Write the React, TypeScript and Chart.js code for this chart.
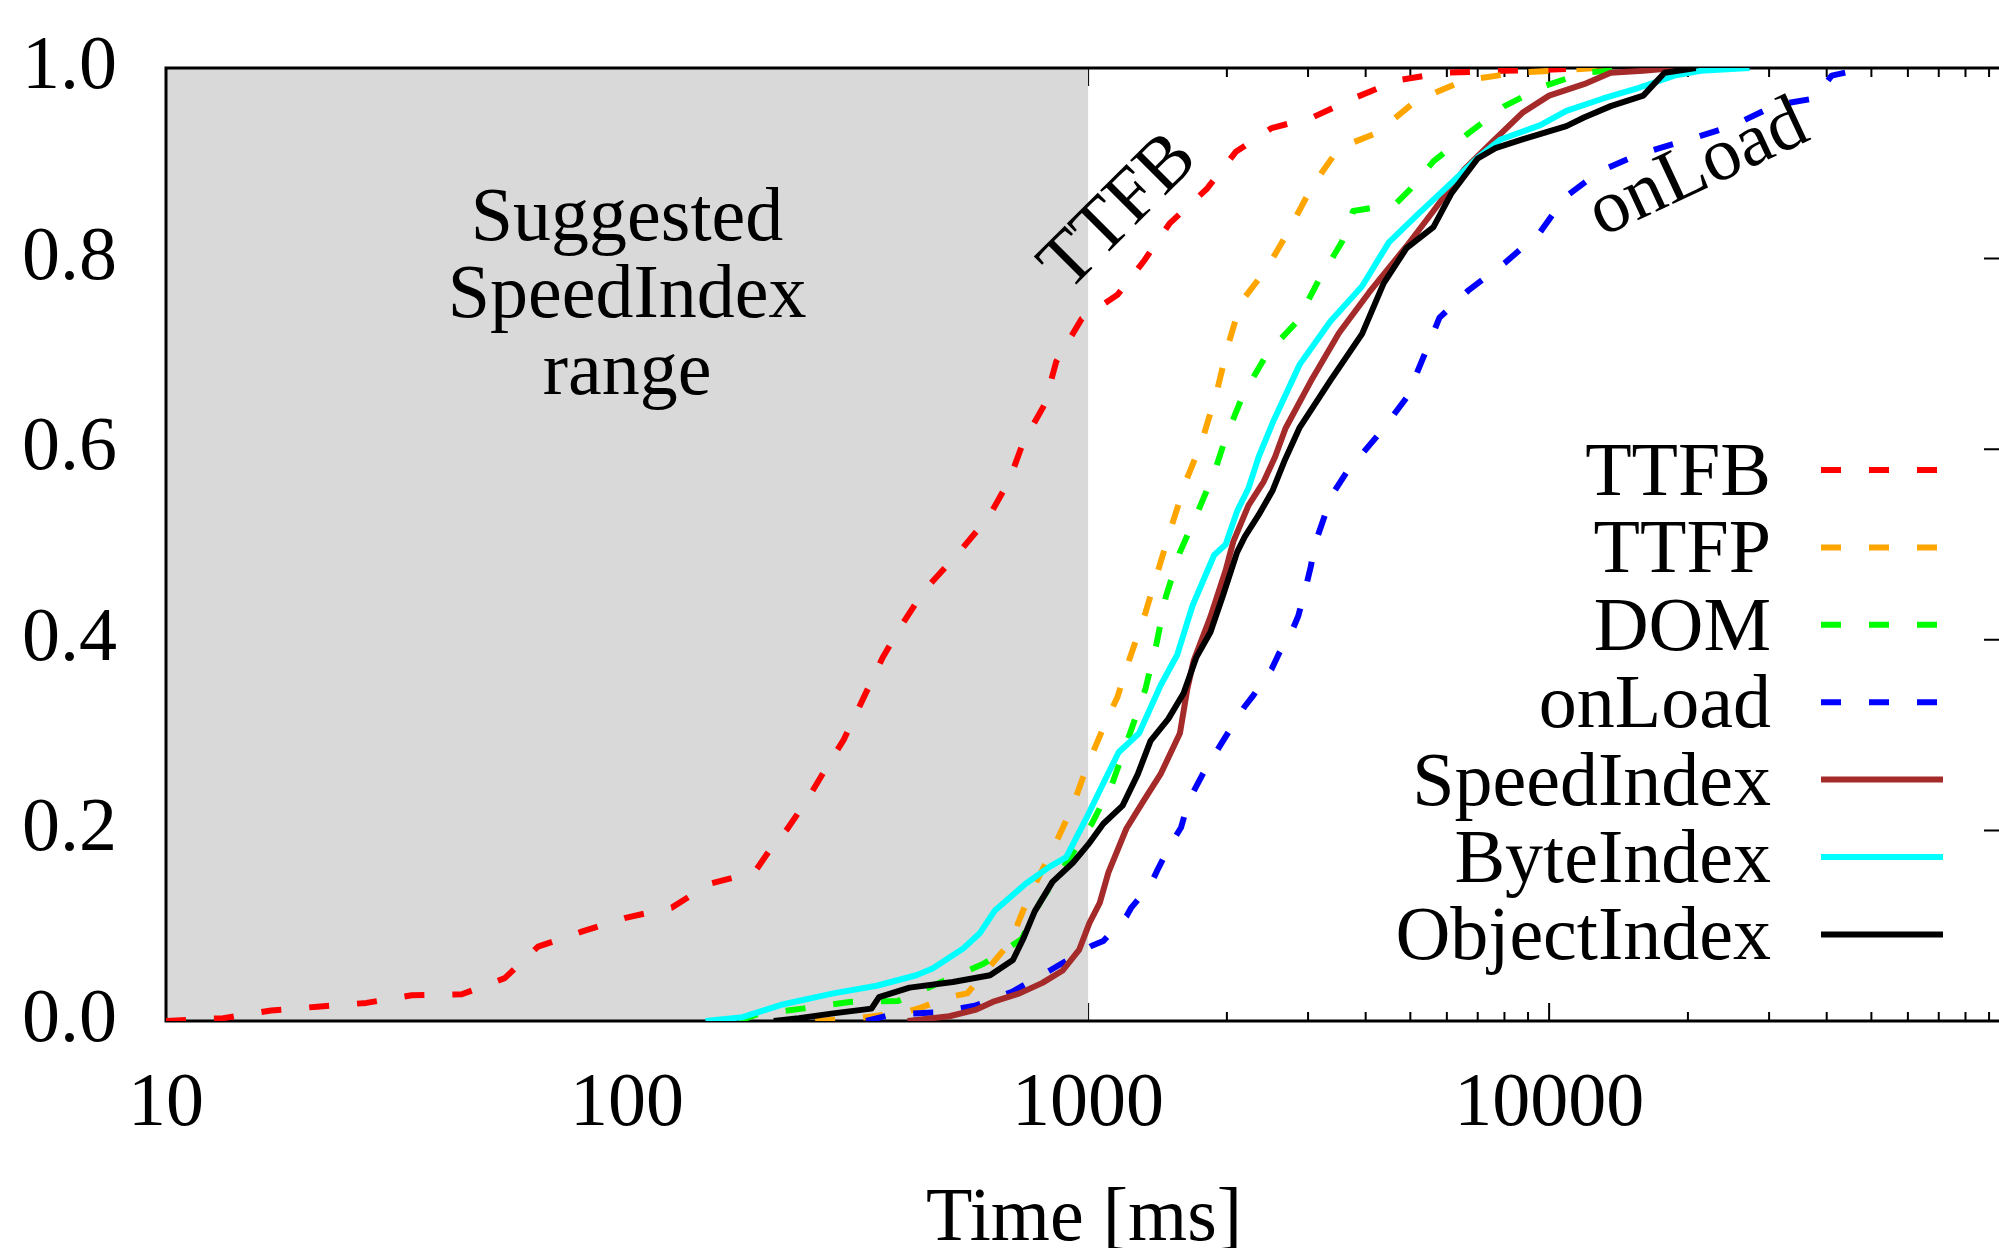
import React, { useEffect, useRef } from 'react';
import { Chart, registerables } from 'chart.js';

Chart.register(...registerables);

const FONT = '"Liberation Serif", "Times New Roman", Times, serif';
const FS = 76;

// axis ranges and tick labels
const xMin = 10;
const xMax = 96000;
const xTickLabels = [10, 100, 1000, 10000];
const yTicks = [0, 0.2, 0.4, 0.6, 0.8, 1.0];
const shadeFrom = 10;
const shadeTo = 1000;

// series meta
const seriesNames = ['TTFB', 'TTFP', 'DOM', 'onLoad', 'SpeedIndex', 'ByteIndex', 'ObjectIndex'];
const seriesColors = ['#ff0000', '#ffa500', '#00ff00', '#0000ff', '#a52a2a', '#00ffff', '#000000'];
const seriesDashed = [true, true, true, true, false, false, false];

// CDF data: time [ms] and cumulative fraction
const ttfbMs = [10, 13.3, 16.9, 21.3, 27.2, 34.1, 43.8, 54.3, 64.1, 80, 98.7, 125, 151, 189, 203, 223, 245, 270, 295, 325, 359, 395, 440, 523, 609, 674, 723, 805, 853, 969, 1158, 1324, 1503, 1808, 2091, 2500, 3063, 3757, 4690, 5900, 7950, 13200];
const ttfbFrac = [0, 0.003, 0.011, 0.015, 0.019, 0.027, 0.028, 0.045, 0.078, 0.094, 0.108, 0.119, 0.144, 0.156, 0.178, 0.202, 0.231, 0.265, 0.295, 0.338, 0.382, 0.416, 0.451, 0.491, 0.529, 0.567, 0.607, 0.647, 0.692, 0.737, 0.762, 0.798, 0.837, 0.873, 0.912, 0.937, 0.948, 0.968, 0.987, 0.995, 0.997, 1.0];

const ttfpMs = [256, 316, 400, 434, 497, 547, 687, 705, 746, 842, 927, 994, 1093, 1158, 1234, 1331, 1419, 1521, 1632, 1762, 1901, 2014, 2145, 2452, 2715, 3063, 3501, 4236, 5125, 6530, 8530, 12800];
const ttfpFrac = [0, 0.003, 0.009, 0.014, 0.025, 0.029, 0.086, 0.103, 0.132, 0.182, 0.226, 0.267, 0.314, 0.340, 0.382, 0.428, 0.473, 0.521, 0.567, 0.607, 0.660, 0.710, 0.754, 0.791, 0.828, 0.876, 0.916, 0.932, 0.965, 0.987, 0.995, 1.0];

const domMs = [175, 191, 240, 304, 387, 491, 593, 718, 790, 915, 1019, 1128, 1233, 1331, 1409, 1474, 1582, 1718, 1877, 1988, 2173, 2452, 2840, 3163, 3548, 3757, 4634, 5000, 5610, 6700, 8000, 9750, 11900, 16000];
const domFrac = [0, 0.007, 0.013, 0.020, 0.021, 0.043, 0.060, 0.086, 0.126, 0.172, 0.207, 0.249, 0.302, 0.348, 0.397, 0.445, 0.492, 0.531, 0.575, 0.612, 0.658, 0.701, 0.734, 0.777, 0.817, 0.850, 0.857, 0.873, 0.902, 0.932, 0.960, 0.981, 0.995, 1.0];

const onLoadMs = [330, 376, 469, 568, 687, 826, 1019, 1079, 1211, 1241, 1366, 1419, 1513, 1591, 1652, 1773, 1939, 2039, 2186, 2270, 2500, 2596, 2767, 2857, 2966, 3042, 3102, 3265, 3391, 3639, 4345, 4906, 5363, 5783, 6695, 8000, 9570, 10800, 12900, 15800, 19800, 24900, 31000, 37600, 41000, 48700];
const onLoadFrac = [0, 0.007, 0.009, 0.016, 0.031, 0.053, 0.079, 0.084, 0.110, 0.119, 0.143, 0.160, 0.186, 0.203, 0.231, 0.259, 0.290, 0.307, 0.330, 0.340, 0.369, 0.386, 0.409, 0.425, 0.455, 0.477, 0.500, 0.531, 0.553, 0.576, 0.620, 0.654, 0.699, 0.738, 0.767, 0.795, 0.828, 0.864, 0.892, 0.910, 0.924, 0.939, 0.961, 0.968, 0.992, 1.0];

const speedMs = [406, 500, 572, 621, 710, 796, 881, 957, 1007, 1060, 1107, 1211, 1315, 1436, 1582, 1641, 1694, 1842, 1988, 2065, 2228, 2404, 2545, 2681, 3063, 3501, 4077, 4906, 5610, 6530, 7470, 8750, 10000, 11900, 13600, 16000, 18700];
const speedFrac = [0, 0.005, 0.012, 0.020, 0.029, 0.040, 0.053, 0.075, 0.103, 0.124, 0.156, 0.202, 0.230, 0.259, 0.302, 0.348, 0.378, 0.424, 0.473, 0.503, 0.541, 0.566, 0.592, 0.622, 0.674, 0.722, 0.765, 0.813, 0.850, 0.893, 0.921, 0.953, 0.971, 0.983, 0.995, 0.997, 1.0];

const byteMs = [148, 178, 216, 280, 348, 424, 460, 536, 582, 628, 732, 826, 897, 994, 1093, 1165, 1290, 1436, 1560, 1685, 1877, 1988, 2105, 2228, 2344, 2515, 2878, 3352, 3929, 4490, 5230, 5970, 7000, 7850, 9570, 10900, 13100, 15600, 18700, 21300, 27200];
const byteFrac = [0, 0.004, 0.017, 0.029, 0.037, 0.048, 0.055, 0.076, 0.092, 0.116, 0.144, 0.162, 0.172, 0.214, 0.255, 0.282, 0.302, 0.352, 0.384, 0.436, 0.489, 0.500, 0.535, 0.559, 0.592, 0.628, 0.689, 0.734, 0.771, 0.817, 0.848, 0.874, 0.906, 0.925, 0.940, 0.955, 0.968, 0.979, 0.992, 0.997, 1.0];

const objectMs = [208, 236, 280, 339, 352, 410, 509, 613, 687, 723, 766, 837, 927, 1000, 1079, 1188, 1282, 1366, 1493, 1611, 1718, 1842, 1963, 2105, 2186, 2344, 2515, 2663, 2878, 3352, 3929, 4375, 4906, 5610, 6130, 7000, 7650, 8750, 10900, 11900, 13600, 16000, 17800, 20800];
const objectFrac = [0, 0.003, 0.008, 0.013, 0.025, 0.035, 0.041, 0.048, 0.064, 0.086, 0.115, 0.146, 0.166, 0.185, 0.207, 0.226, 0.259, 0.294, 0.317, 0.344, 0.382, 0.408, 0.447, 0.492, 0.508, 0.531, 0.557, 0.587, 0.623, 0.672, 0.721, 0.774, 0.811, 0.833, 0.868, 0.905, 0.916, 0.925, 0.939, 0.948, 0.960, 0.971, 0.995, 1.0];

const seriesMs = [ttfbMs, ttfpMs, domMs, onLoadMs, speedMs, byteMs, objectMs];
const seriesFrac = [ttfbFrac, ttfpFrac, domFrac, onLoadFrac, speedFrac, byteFrac, objectFrac];

// annotation texts (anchored in data coordinates)
const shadeText = ['Suggested', 'SpeedIndex', 'range'];
const shadeTextX = 100;
const shadeTextY = 0.8195;
const rotLabels = [
  { text: 'TTFB', x: 1171, y: 0.848, angle: -45 },
  { text: 'onLoad', x: 21100, y: 0.893, angle: -25 },
];

const DASH = [20, 28];
const LW = 6;

const decorPlugin = {
  id: 'decor',
  beforeDatasetsDraw(chart: any) {
    const { ctx, chartArea: a, scales } = chart;
    const x = scales.x;
    const y = scales.y;
    ctx.save();
    // inward ticks on all four sides
    ctx.strokeStyle = '#000';
    ctx.lineWidth = 2;
    ctx.beginPath();
    for (let d = 10; d <= xMax; d *= 10) {
      for (let m = 1; m <= 9; m++) {
        const v = d * m;
        if (v > xMax) break;
        const px = x.getPixelForValue(v);
        const len = m === 1 ? 18 : 9;
        ctx.moveTo(px, a.bottom);
        ctx.lineTo(px, a.bottom - len);
        ctx.moveTo(px, a.top);
        ctx.lineTo(px, a.top + len);
      }
    }
    for (const t of yTicks) {
      const py = y.getPixelForValue(t);
      ctx.moveTo(a.left, py);
      ctx.lineTo(a.left + 18, py);
      ctx.moveTo(a.right, py);
      ctx.lineTo(a.right - 18, py);
    }
    ctx.stroke();
    // shaded range
    const gx0 = x.getPixelForValue(shadeFrom);
    const gx1 = x.getPixelForValue(shadeTo);
    ctx.fillStyle = '#d9d9d9';
    ctx.fillRect(gx0, a.top, gx1 - gx0, a.bottom - a.top);
    // shaded range text
    ctx.fillStyle = '#000';
    ctx.font = `${FS}px ${FONT}`;
    ctx.textAlign = 'center';
    ctx.textBaseline = 'alphabetic';
    const tx = x.getPixelForValue(shadeTextX);
    const ty = y.getPixelForValue(shadeTextY);
    shadeText.forEach((s, i) => ctx.fillText(s, tx, ty + i * 77));
    // frame
    ctx.lineWidth = 3;
    ctx.strokeRect(a.left, a.top, a.right - a.left, a.bottom - a.top);
    ctx.restore();
  },
  afterDatasetsDraw(chart: any) {
    const { ctx, chartArea: a, scales } = chart;
    const x = scales.x;
    const y = scales.y;
    ctx.save();
    ctx.fillStyle = '#000';
    ctx.font = `${FS}px ${FONT}`;
    // rotated curve labels
    for (const l of rotLabels) {
      ctx.save();
      ctx.translate(x.getPixelForValue(l.x), y.getPixelForValue(l.y));
      ctx.rotate((l.angle * Math.PI) / 180);
      ctx.textAlign = 'center';
      ctx.textBaseline = 'middle';
      ctx.fillText(l.text, 0, 0);
      ctx.restore();
    }
    // legend
    const textRight = a.right - 231;
    const s0 = a.right - 181;
    const s1 = a.right - 59;
    seriesNames.forEach((name, i) => {
      const ry = a.top + 402 + 77.4 * i;
      ctx.fillStyle = '#000';
      ctx.textAlign = 'right';
      ctx.textBaseline = 'alphabetic';
      ctx.fillText(name, textRight, ry + 25);
      ctx.strokeStyle = seriesColors[i];
      ctx.lineWidth = LW;
      ctx.lineCap = 'butt';
      ctx.setLineDash(seriesDashed[i] ? DASH : []);
      ctx.beginPath();
      ctx.moveTo(s0, ry);
      ctx.lineTo(s1, ry);
      ctx.stroke();
    });
    ctx.setLineDash([]);
    ctx.restore();
  },
};

export default function App() {
  const ref = useRef<HTMLCanvasElement | null>(null);

  useEffect(() => {
    if (!ref.current) return;
    const datasets = seriesNames.map((name, i) => ({
      label: name,
      data: seriesMs[i].map((ms, j) => ({ x: ms, y: seriesFrac[i][j] })),
      borderColor: seriesColors[i],
      backgroundColor: seriesColors[i],
      borderWidth: LW,
      borderDash: seriesDashed[i] ? DASH : [],
      borderCapStyle: 'butt' as const,
      borderJoinStyle: 'round' as const,
      fill: false,
      pointRadius: 0,
      tension: 0,
      order: seriesNames.length - i,
    }));
    const font = { family: FONT, size: FS };
    const chart = new Chart(ref.current, {
      type: 'line',
      data: { datasets },
      options: {
        responsive: false,
        animation: false,
        events: [],
        layout: { padding: { top: 68, right: 37, left: 0, bottom: 0 } },
        plugins: { legend: { display: false }, tooltip: { enabled: false } },
        scales: {
          x: {
            type: 'logarithmic',
            min: xMin,
            max: xMax,
            grid: { display: false, drawTicks: false },
            border: { display: false },
            ticks: {
              autoSkip: false,
              maxRotation: 0,
              minRotation: 0,
              padding: 38,
              font,
              color: '#000',
              callback: (v: any) => {
                const n = Number(v);
                return xTickLabels.includes(n) ? String(n) : '';
              },
            },
            title: {
              display: true,
              text: 'Time [ms]',
              font,
              color: '#000',
              padding: { top: 0, bottom: 34 },
            },
            afterFit: (s: any) => {
              s.height = 279;
            },
          },
          y: {
            type: 'linear',
            min: 0,
            max: 1,
            grid: { display: false, drawTicks: false },
            border: { display: false },
            ticks: {
              stepSize: 0.2,
              padding: 49,
              font: { family: FONT, size: FS, lineHeight: 0.4 },
              color: '#000',
              callback: (v: any) => Number(v).toFixed(1),
            },
            afterFit: (s: any) => {
              s.width = 166;
            },
          },
        },
      } as any,
      plugins: [decorPlugin],
    });
    return () => chart.destroy();
  }, []);

  return (
    <div
      style={{
        position: 'fixed',
        left: 0,
        top: 0,
        width: 1999,
        height: 1248,
        overflow: 'hidden',
        background: '#ffffff',
      }}
    >
      <canvas ref={ref} width={2040} height={1300} style={{ display: 'block', width: 2040, height: 1300 }} />
    </div>
  );
}
